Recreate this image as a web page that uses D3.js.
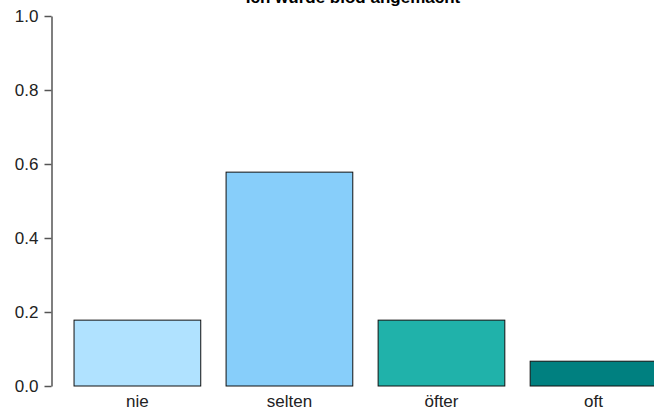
<!DOCTYPE html>
<meta charset="utf-8">
<script src="https://d3js.org/d3.v7.min.js"></script>
<style>
  body { margin: 0; background: #fff; }
  text { font-family: "Liberation Sans", Arial, sans-serif; }
</style>
<div id="chart"></div>
<script>
// data
var categories = ["nie", "selten", "öfter", "oft"];
var values = [0.178, 0.578, 0.178, 0.067];
var colors = ["#B0E2FF", "#87CEFA", "#20B2AA", "#008080"];
var yTicks = [0, 0.2, 0.4, 0.6, 0.8, 1.0];
var title = "Ich wurde blöd angemacht";

var width = 654, height = 410;

var svg = d3.select("#chart")
  .append("svg")
    .attr("width", width)
    .attr("height", height);

// bars like R barplot: width 1, space 0.2
var x = d3.scaleLinear()
  .domain([0, 4.8])
  .range([48.7, 48.7 + 4.8 * 126.7]);

var y = d3.scaleLinear()
  .domain([0, 1])
  .range([386, 16]);

svg.selectAll("rect.bar")
  .data(values)
  .enter()
  .append("rect")
    .attr("class", "bar")
    .attr("x", function(d, i) { return x(i * 1.2 + 0.2) })
    .attr("y", function(d) { return y(d) })
    .attr("width", function(d, i) { return x(i * 1.2 + 1.2) - x(i * 1.2 + 0.2) })
    .attr("height", function(d) { return y(0) - y(d) })
    .style("fill", function(d, i) { return colors[i] })
    .style("stroke", "#111")
    .style("stroke-width", 1);

// category labels
svg.selectAll("text.cat")
  .data(categories)
  .enter()
  .append("text")
    .attr("class", "cat")
    .attr("x", function(d, i) { return x(i * 1.2 + 0.7) })
    .attr("y", 407)
    .attr("text-anchor", "middle")
    .style("font-size", "17px")
    .style("fill", "#222")
    .text(function(d) { return d });

// y axis
var yAxis = svg.append("g")
  .attr("transform", "translate(51.5,0)")
  .call(d3.axisLeft(y)
    .tickValues(yTicks)
    .tickFormat(d3.format(".1f"))
    .tickSize(7)
    .tickPadding(6)
    .tickSizeOuter(0));

yAxis.select(".domain").attr("stroke", "#555").attr("stroke-width", 1.5);
yAxis.selectAll(".tick line").attr("stroke", "#555").attr("stroke-width", 1.5);
yAxis.selectAll(".tick text")
  .style("font-size", "17px")
  .style("fill", "#222")
  .style("font-family", "Liberation Sans, Arial, sans-serif");

// title, cut off at the top as in the original
svg.append("text")
  .attr("x", 353)
  .attr("y", 3)
  .attr("text-anchor", "middle")
  .style("font-size", "17px")
  .style("font-weight", "bold")
  .style("fill", "#000")
  .text(title);
</script>
